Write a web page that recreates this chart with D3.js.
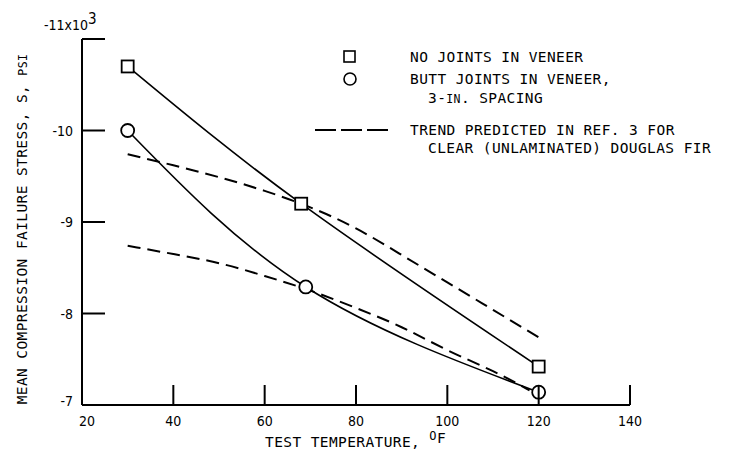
<!DOCTYPE html>
<html><head><meta charset="utf-8">
<script src="https://cdn.jsdelivr.net/npm/d3@7"></script>
<style>
html,body{margin:0;padding:0;background:#fff;}
text{fill:#000;}
.tk{font-family:"DejaVu Sans Condensed","DejaVu Sans",sans-serif;}
.lb{font-family:"DejaVu Sans Mono",monospace;letter-spacing:0.4px;}
</style></head>
<body><svg id="c" width="732" height="450"></svg>
<script>
// ---- data ----
const xTicks = [20, 40, 60, 80, 100, 120, 140];
const yTicks = [-7, -8, -9, -10, -11];
const yTickLabels = ["-7", "-8", "-9", "-10", "-11x10"];
const noJointsT = [30, 68, 120];
const noJoints = [-10.7, -9.2, -7.42];
const buttJointsT = [30, 69, 120];
const buttJoints = [-10.0, -8.29, -7.14];
const trendUpperT = [30, 40, 50, 60, 70, 80, 90, 100, 110, 120];
const trendUpper = [-9.74, -9.62, -9.49, -9.34, -9.16, -8.93, -8.64, -8.34, -8.04, -7.74];
const trendLowerT = [30, 40, 50, 60, 70, 80, 90, 100, 110, 118];
const trendLower = [-8.74, -8.65, -8.55, -8.41, -8.25, -8.06, -7.85, -7.60, -7.37, -7.16];

const svg = d3.select("#c");
const x = d3.scaleLinear().domain([20, 140]).range([82, 630]);
const y = d3.scaleLinear().domain([-7, -11]).range([405, 39]);

const pts = (ts, vs) => ts.map((t, i) => [x(t), y(vs[i])]);
const line = d3.line().curve(d3.curveNatural);

// dashed trend curves
[[trendUpperT, trendUpper], [trendLowerT, trendLower]].forEach(([t, v]) => {
  svg.append("path").attr("d", line(pts(t, v)))
    .attr("fill", "none").attr("stroke", "#000").attr("stroke-width", 2)
    .attr("stroke-dasharray", "13,7");
});
// solid curves
[[noJointsT, noJoints], [buttJointsT, buttJoints]].forEach(([t, v]) => {
  svg.append("path").attr("d", line(pts(t, v)))
    .attr("fill", "none").attr("stroke", "#000").attr("stroke-width", 1.6);
});
// markers
const S = 12;
svg.selectAll("rect.m").data(noJointsT.map((t, i) => [t, noJoints[i]])).join("rect")
  .attr("class", "m").attr("x", d => x(d[0]) - S / 2).attr("y", d => y(d[1]) - S / 2)
  .attr("width", S).attr("height", S).attr("fill", "#fff").attr("stroke", "#000").attr("stroke-width", 1.8);
svg.selectAll("circle.m").data(buttJointsT.map((t, i) => [t, buttJoints[i]])).join("circle")
  .attr("class", "m").attr("cx", d => x(d[0])).attr("cy", d => y(d[1])).attr("r", 6.5)
  .attr("fill", "#fff").attr("stroke", "#000").attr("stroke-width", 1.8);

// axes
const ax = svg.append("g").attr("stroke", "#000").attr("stroke-width", 2);
ax.append("line").attr("x1", x(20)).attr("x2", x(140)).attr("y1", y(-7)).attr("y2", y(-7));
ax.append("line").attr("x1", x(20)).attr("x2", x(20)).attr("y1", y(-7)).attr("y2", y(-11));
xTicks.slice(1).forEach(t => {
  ax.append("line").attr("x1", x(t)).attr("x2", x(t)).attr("y1", y(-7)).attr("y2", y(-7) - 20);
});
yTicks.slice(1).forEach(v => {
  ax.append("line").attr("x1", x(20)).attr("x2", x(20) + 23).attr("y1", y(v)).attr("y2", y(v));
});

// tick labels
const fs = 14;
xTicks.forEach((t, i) => {
  svg.append("text").attr("class", "tk").attr("x", x(t) + (i === 0 ? 5 : 0)).attr("y", y(-7) + 21)
    .attr("text-anchor", "middle").attr("font-size", fs).text(t);
});
yTicks.forEach((v, i) => {
  if (i === 4) {
    const tt = svg.append("text").attr("class", "tk").attr("x", x(20) - 38).attr("y", y(v) - 9).attr("font-size", fs);
    tt.append("tspan").text(yTickLabels[i]);
    tt.append("tspan").attr("dy", -6).attr("font-size", 15).text("3");
  } else {
    svg.append("text").attr("class", "tk").attr("x", x(20) - 9).attr("y", y(v) + 5 - (i === 0 ? 4 : 0))
      .attr("text-anchor", "end").attr("font-size", fs).text(yTickLabels[i]);
  }
});

// axis titles
const lfs = 14.5;
const xt = svg.append("text").attr("class", "lb").attr("x", 265).attr("y", 447).attr("font-size", lfs);
xt.append("tspan").text("TEST TEMPERATURE, ");
xt.append("tspan").attr("dy", -7).attr("font-size", 12).text("O");
xt.append("tspan").attr("dy", 3).attr("font-size", lfs).text("F");

const yt = svg.append("text").attr("class", "lb").attr("transform", "translate(27,229) rotate(-90)")
  .attr("text-anchor", "middle").attr("font-size", lfs);
yt.append("tspan").text("MEAN COMPRESSION FAILURE STRESS, S, ");
yt.append("tspan").attr("font-size", 11.5).text("PSI");

// legend
const lg = svg.append("g");
lg.append("rect").attr("x", 344).attr("y", 51).attr("width", 11).attr("height", 11)
  .attr("fill", "#fff").attr("stroke", "#000").attr("stroke-width", 1.6);
lg.append("circle").attr("cx", 350).attr("cy", 79).attr("r", 6)
  .attr("fill", "#fff").attr("stroke", "#000").attr("stroke-width", 1.6);
lg.append("line").attr("x1", 315).attr("x2", 388).attr("y1", 130).attr("y2", 130)
  .attr("stroke", "#000").attr("stroke-width", 2).attr("stroke-dasharray", "21,5");
lg.append("text").attr("class", "lb").attr("x", 410).attr("y", 62).attr("font-size", lfs).text("NO JOINTS IN VENEER");
lg.append("text").attr("class", "lb").attr("x", 410).attr("y", 84).attr("font-size", lfs).text("BUTT JOINTS IN VENEER,");
const sp = lg.append("text").attr("class", "lb").attr("x", 428).attr("y", 103).attr("font-size", lfs);
sp.append("tspan").text("3-");
sp.append("tspan").attr("font-size", 11.5).text("IN");
sp.append("tspan").text(". SPACING");
lg.append("text").attr("class", "lb").attr("x", 410).attr("y", 135).attr("font-size", lfs).text("TREND PREDICTED IN REF. 3 FOR");
lg.append("text").attr("class", "lb").attr("x", 428).attr("y", 153).attr("font-size", lfs).text("CLEAR (UNLAMINATED) DOUGLAS FIR");
</script></body></html>
